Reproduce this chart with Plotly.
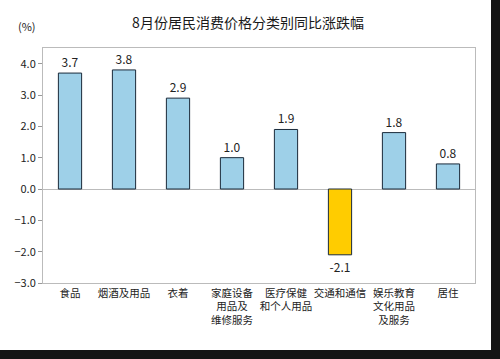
import plotly.graph_objects as go

categories = ["食品", "烟酒及用品", "衣着", "家庭设备<br>用品及<br>维修服务",
              "医疗保健<br>和个人用品", "交通和通信", "娱乐教育<br>文化用品<br>及服务", "居住"]
values = [3.7, 3.8, 2.9, 1.0, 1.9, -2.1, 1.8, 0.8]
y_ticks = [4.0, 3.0, 2.0, 1.0, 0.0, -1.0, -2.0, -3.0]

colors = ["#FFCC00" if v < 0 else "#9ED0E8" for v in values]

FONT = "Noto Sans CJK SC, Liberation Sans, sans-serif"

fig = go.Figure()
fig.add_trace(go.Bar(
    x=categories, y=values,
    marker=dict(color=colors, line=dict(color="#1a2a3a", width=1)),
    width=0.43,
    text=[f"{v:.1f}" for v in values],
    textposition="outside",
    textfont=dict(size=12, color="#222", family=FONT),
    cliponaxis=False,
))

fig.update_layout(
    width=500, height=359,
    margin=dict(l=43, r=25, t=48, b=76),
    paper_bgcolor="#151515", plot_bgcolor="white",
    showlegend=False,
    font=dict(family=FONT, color="#222"),
    title=dict(text="8月份居民消费价格分类别同比涨跌幅", x=0.496, y=0.936,
               xanchor="center", yanchor="middle",
               font=dict(size=14, color="#1a1a1a", family=FONT)),
    xaxis=dict(showline=True, mirror=True, linecolor="#bbbbbb", linewidth=1,
               ticks="", tickangle=0, automargin=False,
               tickfont=dict(size=10.5, color="#222"), showgrid=False),
    yaxis=dict(range=[-3, 4.5], tickvals=y_ticks, tickformat=".1f", automargin=False,
               showline=True, mirror=True, linecolor="#bbbbbb", linewidth=1,
               ticks="outside", ticklen=4, tickcolor="#999",
               showgrid=False, zeroline=True, zerolinecolor="#bbbbbb", zerolinewidth=1,
               tickfont=dict(size=11, color="#222")),
    annotations=[dict(text="(%)", xref="paper", yref="paper", x=-0.037, y=1.094,
                      xanchor="center", yanchor="middle", showarrow=False,
                      font=dict(size=11, color="#222"))],
    shapes=[
        dict(type="rect", xref="paper", yref="paper", x0=-0.3, x1=(491-43)/432,
             y0=(283-350)/235, y1=1.4, fillcolor="white", line=dict(width=0), layer="below"),
    ],
)

fig.write_html("out.html", config={"displayModeBar": False},
               post_script="document.body.style.margin='0';document.body.style.overflow='hidden';")
